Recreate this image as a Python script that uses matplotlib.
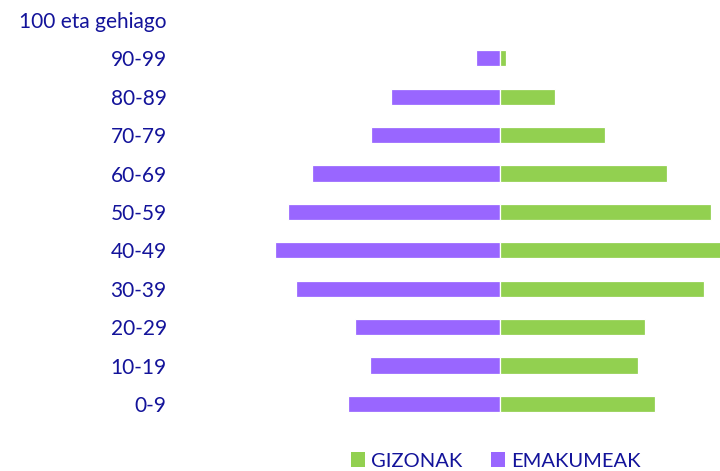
import matplotlib

matplotlib.use("Agg")

import matplotlib.pyplot as plt  # noqa: E402
from matplotlib.patches import Patch  # noqa: E402

# Age groups, bottom to top
ages = ["0-9", "10-19", "20-29", "30-39", "40-49", "50-59",
        "60-69", "70-79", "80-89", "90-99", "100 eta gehiago"]
emakumeak = [152, 130, 145, 204, 225, 212, 188, 129, 109, 24, 0]
gizonak = [155, 138, 145, 204, 221, 211, 167, 105, 55, 6, 0]

_PURPLE = "#9966FF"
_GREEN = "#92D050"
_TEXT = "#13139a"

plt.rcParams["font.family"] = ["Lato", "DejaVu Sans"]

fig = plt.figure(figsize=(7.2, 4.71), dpi=100, facecolor="white")
ax = fig.add_axes([175 / 720, 41 / 471, 545 / 720, 430 / 471])

ypos = list(range(len(ages)))
ax.barh(ypos, [-v for v in emakumeak], height=0.42, color=_PURPLE,
        edgecolor="white", linewidth=0.9)
ax.barh(ypos, gizonak, height=0.42, color=_GREEN,
        edgecolor="white", linewidth=0.9)

ax.set_xlim(-324.5, 220.5)
ax.set_ylim(-0.68, 10.52)
ax.set_yticks(ypos)
ax.set_yticklabels(ages, color=_TEXT, fontsize=15)
ax.tick_params(axis="y", length=0, pad=6)
ax.set_xticks([])
for s in ax.spines.values():
    s.set_visible(False)

handles = [Patch(facecolor=_GREEN, label="GIZONAK"),
           Patch(facecolor=_PURPLE, label="EMAKUMEAK")]
leg = fig.legend(handles=handles, loc="center left", ncol=2,
                 bbox_to_anchor=(333 / 720, 1 - 461 / 471), frameon=False,
                 handlelength=0.7, handleheight=0.7, handletextpad=0.3,
                 columnspacing=1.4, fontsize=14.5)
for t in leg.get_texts():
    t.set_color(_TEXT)

fig.savefig("out.png", dpi=100, facecolor="white")
plt.close(fig)
